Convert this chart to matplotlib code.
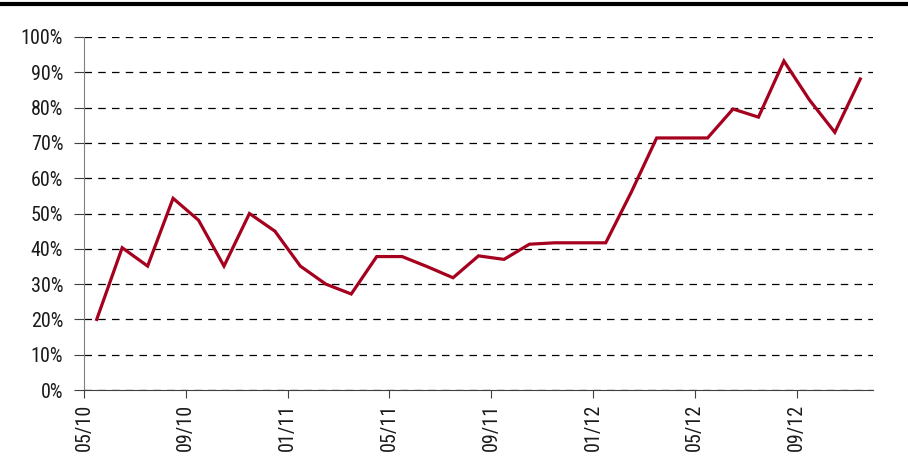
import matplotlib
matplotlib.use("Agg")
import matplotlib.pyplot as plt
from matplotlib.lines import Line2D
from matplotlib.ticker import FixedLocator, PercentFormatter

# monthly values, May 2010 .. Nov 2012 (in %)
values = [20.0, 40.3, 35.1, 54.3, 48.1, 35.1, 50.0, 45.0, 35.1, 30.0,
          27.2, 37.8, 37.8, 34.9, 31.8, 38.0, 37.0, 41.3, 41.7, 41.7,
          41.7, 56.0, 71.4, 71.4, 71.4, 79.6, 77.3, 93.2, 82.2, 73.0,
          88.1]
tick_labels = ["05/10", "09/10", "01/11", "05/11", "09/11", "01/12", "05/12", "09/12"]
yticks = [0, 10, 20, 30, 40, 50, 60, 70, 80, 90, 100]

plt.rcParams['font.family'] = ['Roboto Condensed', 'DejaVu Sans']
plt.rcParams['font.stretch'] = 'condensed'

W, H = 908, 459
fig = plt.figure(figsize=(W / 100, H / 100), dpi=100)
ax = fig.add_axes([84 / W, 1 - 390 / H, (873 - 84) / W, (390 - 37) / H])

# points sit in the middle of each month slot
x = [i + 0.5 for i in range(len(values))]
ax.plot(x, values, color='#A5001E', linewidth=2.3, solid_joinstyle='miter', zorder=3)

ax.set_xlim(0, len(values))
ax.set_ylim(0, 100)

ax.set_yticks(yticks)
ax.yaxis.set_major_formatter(PercentFormatter(decimals=0))
ax.xaxis.set_major_locator(FixedLocator(range(0, len(values), 4)))
ax.set_xticklabels(tick_labels, rotation=90)

ax.grid(axis='y', color='black', linestyle=(0, (6, 5)), linewidth=0.9)
ax.grid(axis='x', visible=False)
ax.set_axisbelow(True)

for side in ['top', 'right']:
    ax.spines[side].set_visible(False)
ax.spines['left'].set_color('#7f7f7f')
ax.spines['bottom'].set_color('#404040')
ax.tick_params(axis='y', length=7, color='#404040', labelsize=14.5, pad=8, labelcolor='#1a1a1a')
ax.tick_params(axis='x', length=6, color='#404040', labelsize=14.5, pad=4, labelcolor='#1a1a1a')

# thick rule across the top of the figure
fig.add_artist(Line2D([0, 1], [1 - 4 / H, 1 - 4 / H], color='black', linewidth=3,
                      transform=fig.transFigure))

fig.savefig("out.png", dpi=100)
